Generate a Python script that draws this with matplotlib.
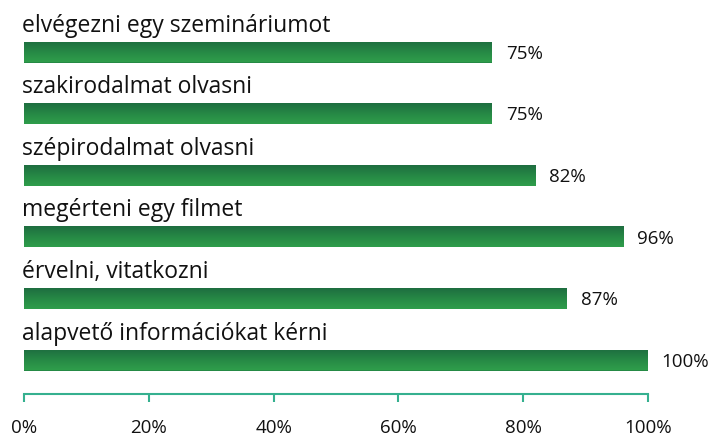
import matplotlib
matplotlib.use("Agg")
import matplotlib.pyplot as plt
import numpy as np
from matplotlib.colors import LinearSegmentedColormap

categories = ["elvégezni egy szemináriumot", "szakirodalmat olvasni", "szépirodalmat olvasni",
              "megérteni egy filmet", "érvelni, vitatkozni", "alapvető információkat kérni"]
values = [75, 75, 82, 96, 87, 100]
xticks = [0, 20, 40, 60, 80, 100]
xticklabels = ["0%", "20%", "40%", "60%", "80%", "100%"]

plt.rcParams['font.family'] = ['Open Sans', 'DejaVu Sans']

W, H = 715, 437
fig = plt.figure(figsize=(W/100, H/100), dpi=100)
x0, x1 = 24, 648
yaxis = 394
ax = fig.add_axes([x0/W, (H-yaxis)/H, (x1-x0)/W, yaxis/H])
ax.set_xlim(0, 100)
step = 61.6
c0 = 52
ax.set_ylim((yaxis-c0)/step, -c0/step)

ypos = np.arange(len(categories))
bh = 21/step
bars = ax.barh(ypos, values, height=bh, color="#258a45", edgecolor="none", zorder=2)
cmap = LinearSegmentedColormap.from_list("g", ["#1e6e40", "#268845", "#2f9d4b"])
grad = np.linspace(0, 1, 64).reshape(-1, 1)
for b in bars:
    xb, yb, wb, hb = b.get_x(), b.get_y(), b.get_width(), b.get_height()
    im = ax.imshow(grad, cmap=cmap, aspect="auto", extent=[xb, xb+wb, yb+hb, yb], zorder=3)
    im.set_clip_path(b)

for i, (c, v) in enumerate(zip(categories, values)):
    ax.text(-0.3, i - 0.43, c, ha="left", va="center", fontsize=16.5, color="#111111")
    ax.text(v + 2.2, i + 0.03, f"{v}%", ha="left", va="center", fontsize=13.5, color="#111111")

ax.set_xticks(xticks)
ax.set_xticklabels(xticklabels, fontsize=13.5, color="#111111")
ax.set_yticks([])
for s in ["top", "right", "left"]:
    ax.spines[s].set_visible(False)
ax.spines["bottom"].set_color("#35b08f")
ax.spines["bottom"].set_linewidth(1.5)
ax.tick_params(axis="x", direction="out", length=6, width=1.5, color="#35b08f", pad=12)
ax.set_ylim((yaxis-c0)/step, -c0/step)
ax.set_xlim(0, 100)

fig.savefig("out.png", dpi=100)
